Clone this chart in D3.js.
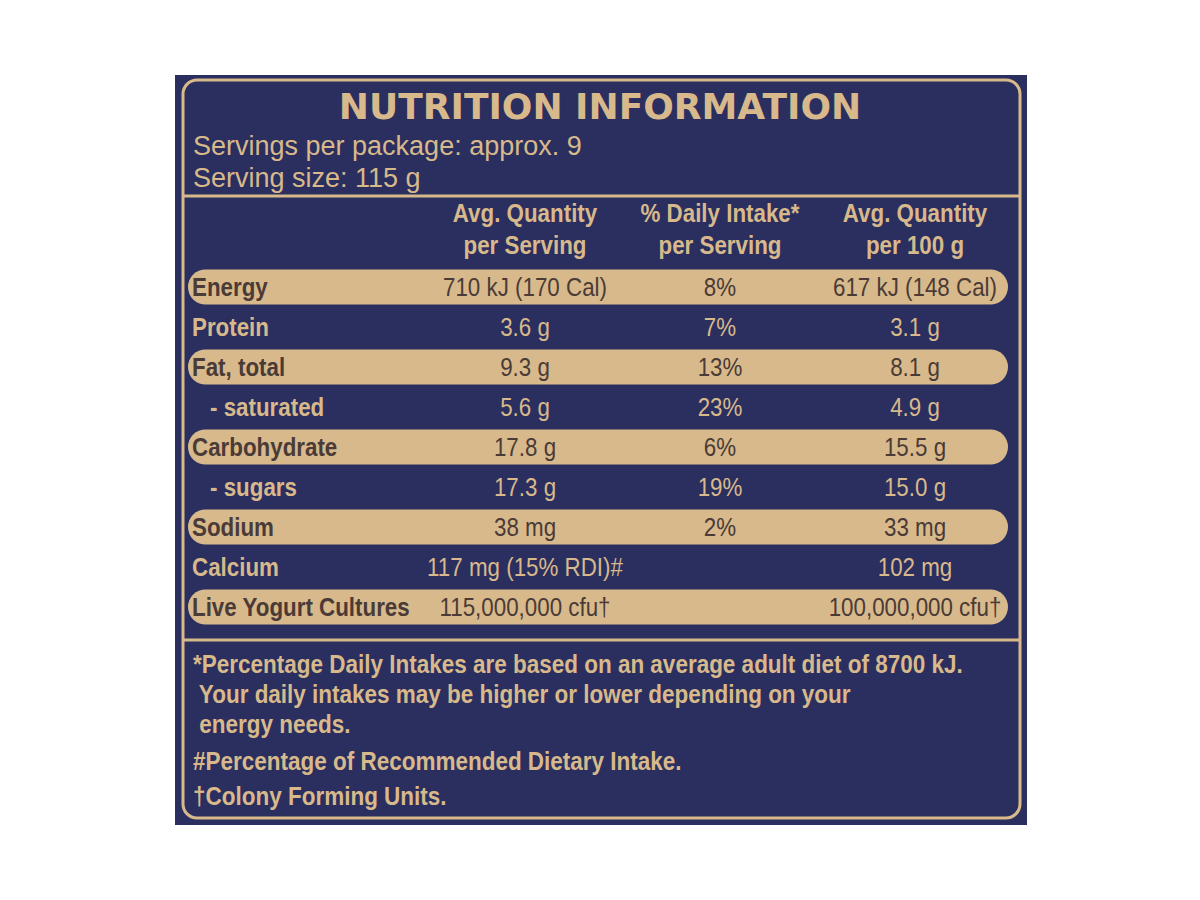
<!DOCTYPE html>
<html><head><meta charset="utf-8">
<script src="https://cdn.jsdelivr.net/npm/d3@7"></script>
<style>body{margin:0;background:#fff}</style>
</head><body><svg id="c" width="1200" height="900"></svg>
<script>
// rows of the panel, top to bottom
var nutrients = ["Energy", "Protein", "Fat, total", "- saturated", "Carbohydrate", "- sugars", "Sodium", "Calcium", "Live Yogurt Cultures"];
var perServing = ["710 kJ (170 Cal)", "3.6 g", "9.3 g", "5.6 g", "17.8 g", "17.3 g", "38 mg", "117 mg (15% RDI)#", "115,000,000 cfu†"];
var dailyIntake = ["8%", "7%", "13%", "23%", "6%", "19%", "2%", "", ""];
var per100g = ["617 kJ (148 Cal)", "3.1 g", "8.1 g", "4.9 g", "15.5 g", "15.0 g", "33 mg", "102 mg", "100,000,000 cfu†"];
var highlighted = ["Energy", "Fat, total", "Carbohydrate", "Sodium", "Live Yogurt Cultures"];
var headers = [["Avg. Quantity", "per Serving"], ["% Daily Intake*", "per Serving"], ["Avg. Quantity", "per 100 g"]];
var footnotes = ["*Percentage Daily Intakes are based on an average adult diet of 8700 kJ.",
  " Your daily intakes may be higher or lower depending on your",
  " energy needs.", "#Percentage of Recommended Dietary Intake.", "†Colony Forming Units."];

var navy = "#2b2f5f", gold = "#d8b98b", ink = "#4a3b37";
var font = "'Liberation Sans',Arial,sans-serif";
var svg = d3.select("#c");

// condensed text: Liberation Sans squeezed horizontally
function label(g, x, y, anchor, size, bold, fill, str, sx) {
  return g.append("text").attr("transform", "translate(" + x + "," + y + ") scale(" + (sx || 0.86) + ",1)")
    .attr("text-anchor", anchor).attr("font-family", font).attr("font-weight", bold ? "bold" : "normal")
    .attr("font-size", size).attr("fill", fill).attr("xml:space", "preserve").text(str);
}

svg.append("rect").attr("x", 175).attr("y", 75).attr("width", 852).attr("height", 750).attr("fill", navy);
svg.append("rect").attr("x", 183).attr("y", 80).attr("width", 837).attr("height", 738).attr("rx", 14)
  .attr("fill", "none").attr("stroke", gold).attr("stroke-width", 3);
[196, 640].forEach(function (y) {
  svg.append("line").attr("x1", 183).attr("x2", 1020).attr("y1", y).attr("y2", y)
    .attr("stroke", gold).attr("stroke-width", 3);
});

svg.append("text").attr("x", 600).attr("y", 119).attr("text-anchor", "middle")
  .attr("font-family", "'DejaVu Sans',sans-serif").attr("font-weight", "bold").attr("font-size", 36)
  .attr("fill", gold).text("NUTRITION INFORMATION");
svg.selectAll(".serv").data(["Servings per package: approx. 9", "Serving size: 115 g"]).enter()
  .append("text").attr("x", 193).attr("y", function (d, i) { return 155 + i * 32; })
  .attr("font-family", font).attr("font-size", 27).attr("fill", gold).text(function (d) { return d; });

var colX = d3.scalePoint().domain([0, 1, 2]).range([525, 915]);
headers.forEach(function (h, i) {
  h.forEach(function (line, j) {
    label(svg, i == 1 ? 720 : colX(i), 222 + j * 32, "middle", 26, true, gold, line);
  });
});

var y = d3.scaleBand().domain(nutrients).range([267, 627]).paddingInner(0.12).paddingOuter(0.06);
var rows = svg.selectAll(".row").data(nutrients).enter().append("g")
  .attr("transform", function (d) { return "translate(0," + y(d) + ")"; });
rows.filter(function (d) { return highlighted.indexOf(d) >= 0; }).append("rect")
  .attr("x", 188).attr("width", 820).attr("height", y.bandwidth()).attr("rx", y.bandwidth() / 2)
  .attr("fill", gold);
rows.each(function (d) {
  var g = d3.select(this), i = nutrients.indexOf(d);
  var fill = highlighted.indexOf(d) >= 0 ? ink : gold, ty = y.bandwidth() / 2 + 9;
  label(g, d.charAt(0) == "-" ? 210 : 192, ty, "start", 26, true, fill, d);
  label(g, colX(0), ty, "middle", 26, false, fill, perServing[i]);
  label(g, 720, ty, "middle", 26, false, fill, dailyIntake[i]);
  label(g, colX(2), ty, "middle", 26, false, fill, per100g[i]);
});

svg.selectAll(".fn").data(footnotes).enter().append("g").each(function (d, i) {
  label(d3.select(this), 193, [673, 703, 733, 770, 805][i], "start", 25, true, gold, d, 0.9);
});
</script></body></html>
